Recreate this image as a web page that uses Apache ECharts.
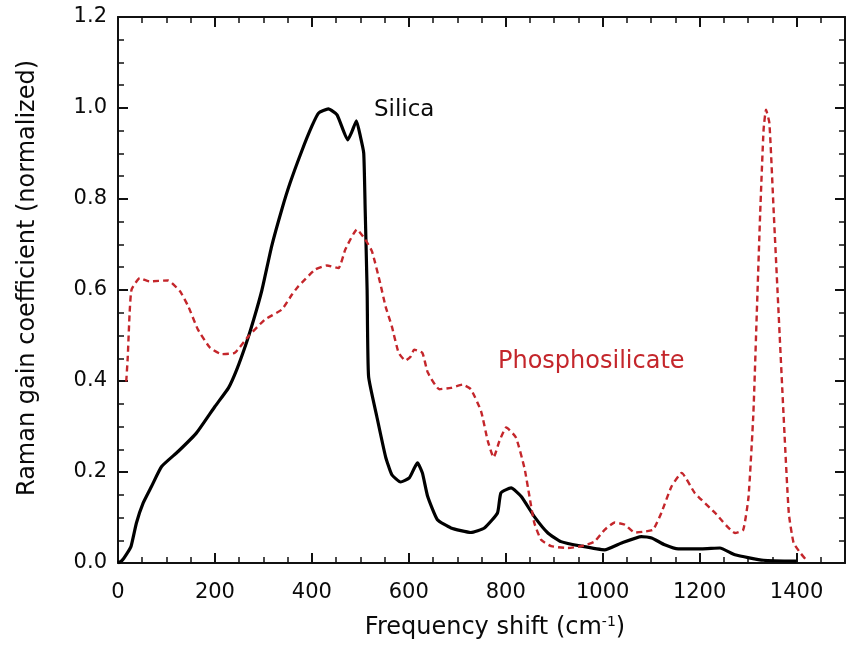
<!DOCTYPE html>
<html>
<head>
<meta charset="utf-8">
<script src="https://cdn.jsdelivr.net/npm/echarts@6/dist/echarts.min.js"></script>
<style>html,body{margin:0;padding:0;background:#fff}#c{width:851px;height:647px}</style>
</head>
<body>
<div id="c"></div>
<script>
// Frequency shift (cm^-1) and normalized Raman gain
const silicaShift = [0, 8, 18, 27, 38, 52, 69, 90, 124, 162, 200, 228, 245, 265, 280, 297, 317, 338, 355, 379, 400, 414, 434, 452, 474, 483, 492, 500, 507, 510, 514, 517, 534, 552, 565, 583, 601, 612, 618, 628, 639, 659, 687, 728, 756, 783, 790, 811, 832, 859, 887, 914, 956, 1004, 1039, 1080, 1101, 1128, 1156, 1204, 1242, 1273, 1332, 1400];
const silicaGain = [0, 0.005, 0.02, 0.037, 0.088, 0.132, 0.168, 0.212, 0.245, 0.286, 0.344, 0.385, 0.425, 0.484, 0.535, 0.6, 0.696, 0.777, 0.835, 0.905, 0.96, 0.989, 0.998, 0.985, 0.93, 0.949, 0.972, 0.938, 0.901, 0.777, 0.6, 0.41, 0.322, 0.234, 0.194, 0.178, 0.187, 0.21, 0.22, 0.198, 0.146, 0.095, 0.077, 0.067, 0.077, 0.11, 0.154, 0.165, 0.146, 0.102, 0.066, 0.047, 0.037, 0.029, 0.044, 0.058, 0.055, 0.04, 0.031, 0.031, 0.033, 0.018, 0.006, 0.004];

const phosShift = [17, 20, 24, 28, 45, 65, 103, 128, 145, 165, 190, 214, 241, 269, 303, 338, 359, 372, 407, 431, 455, 469, 493, 510, 524, 541, 552, 565, 579, 593, 604, 611, 628, 639, 663, 687, 711, 728, 749, 763, 775, 787, 801, 821, 839, 849, 859, 873, 894, 928, 956, 983, 1004, 1025, 1046, 1066, 1087, 1104, 1121, 1142, 1163, 1190, 1232, 1273, 1290, 1301, 1311, 1318, 1325, 1332, 1337, 1344, 1353, 1363, 1373, 1384, 1394, 1408, 1422];
const phosGain = [0.399, 0.45, 0.55, 0.601, 0.626, 0.619, 0.621, 0.597, 0.564, 0.513, 0.473, 0.459, 0.462, 0.498, 0.535, 0.557, 0.59, 0.608, 0.645, 0.654, 0.648, 0.689, 0.733, 0.711, 0.685, 0.615, 0.564, 0.52, 0.462, 0.445, 0.454, 0.469, 0.462, 0.419, 0.382, 0.385, 0.392, 0.382, 0.334, 0.268, 0.232, 0.268, 0.298, 0.276, 0.207, 0.146, 0.088, 0.051, 0.037, 0.033, 0.037, 0.047, 0.073, 0.089, 0.084, 0.067, 0.069, 0.073, 0.11, 0.168, 0.198, 0.154, 0.11, 0.066, 0.073, 0.146, 0.33, 0.549, 0.769, 0.952, 0.996, 0.967, 0.769, 0.549, 0.33, 0.11, 0.044, 0.022, 0.004];

const xMin = 0, xMax = 1500, xStep = 200;
const yMin = 0, yMax = 1.2, yStep = 0.2;

// annotation anchors (data coordinates)
const silicaLabel = { text: 'Silica', x: 528, y: 0.996 };
const phosLabel = { text: 'Phosphosilicate', x: 784, y: 0.443 };

const FONT = 'DejaVu Sans';
const RED = '#c4262b';
const INK = '#0a0a0a';

const zip = (a, b) => a.map((v, i) => [v, b[i]]);

const axisLine = { show: true, onZero: false, lineStyle: { color: '#111', width: 2 } };
const tick = { show: true, inside: true, length: 10, lineStyle: { color: '#111', width: 2 } };
const minor = { show: true, splitNumber: 4, length: 6, lineStyle: { color: '#111', width: 1.5 } };

const xBase = { type: 'value', min: xMin, max: xMax, interval: xStep, axisLine, axisTick: tick, minorTick: minor, splitLine: { show: false }, minorSplitLine: { show: false } };
const yBase = { type: 'value', min: yMin, max: yMax, interval: yStep, axisLine, axisTick: tick, minorTick: minor, splitLine: { show: false }, minorSplitLine: { show: false } };

const chart = echarts.init(document.getElementById('c'), null, { renderer: 'canvas' });
chart.setOption({
  animation: false,
  backgroundColor: '#fff',
  grid: { left: 118, right: 6, top: 17, bottom: 84, containLabel: false },
  xAxis: [
    Object.assign({}, xBase, {
      position: 'bottom',
      name: 'Frequency shift (cm{sup|-1})',
      nameLocation: 'middle',
      nameGap: 52,
      nameTextStyle: { fontFamily: FONT, fontSize: 24, color: INK, padding: [0, 0, 0, 27],
        rich: { sup: { fontFamily: FONT, fontSize: 14, color: INK, padding: [0, 0, 12, 0] } } },
      axisLabel: { show: true, margin: 19, fontFamily: FONT, fontSize: 21, color: INK, showMaxLabel: false, formatter: v => String(v) }
    }),
    Object.assign({}, xBase, { position: 'top', axisLabel: { show: false } })
  ],
  yAxis: [
    Object.assign({}, yBase, {
      position: 'left',
      name: 'Raman gain coefficient (normalized)',
      nameLocation: 'middle',
      nameGap: 78,
      nameTextStyle: { fontFamily: FONT, fontSize: 24, color: INK, padding: [0, 0, 0, 24] },
      axisLabel: { show: true, margin: 11, fontFamily: FONT, fontSize: 21, color: INK, formatter: v => v.toFixed(1) }
    }),
    Object.assign({}, yBase, { position: 'right', axisLabel: { show: false } })
  ],
  series: [
    {
      name: 'Silica', type: 'line', xAxisIndex: 0, yAxisIndex: 0,
      data: zip(silicaShift, silicaGain), showSymbol: false, symbol: 'none',
      smooth: 0.15,
      lineStyle: { color: '#000', width: 3.2 }, z: 2,
      markPoint: {
        symbol: 'circle', symbolSize: 0,
        data: [{ coord: [silicaLabel.x, silicaLabel.y], value: silicaLabel.text }],
        label: { show: true, position: 'right', distance: 0, formatter: silicaLabel.text, fontFamily: FONT, fontSize: 23, color: INK, align: 'left', verticalAlign: 'middle' }
      }
    },
    {
      name: 'Phosphosilicate', type: 'line', xAxisIndex: 0, yAxisIndex: 0,
      data: zip(phosShift, phosGain), showSymbol: false, symbol: 'none',
      smooth: 0.15,
      lineStyle: { color: RED, width: 2.4, type: [6, 4] }, z: 3,
      markPoint: {
        symbol: 'circle', symbolSize: 0,
        data: [{ coord: [phosLabel.x, phosLabel.y], value: phosLabel.text }],
        label: { show: true, position: 'right', distance: 0, formatter: phosLabel.text, fontFamily: FONT, fontSize: 24, color: RED, align: 'left', verticalAlign: 'middle' }
      }
    }
  ]
});
</script>
</body>
</html>
